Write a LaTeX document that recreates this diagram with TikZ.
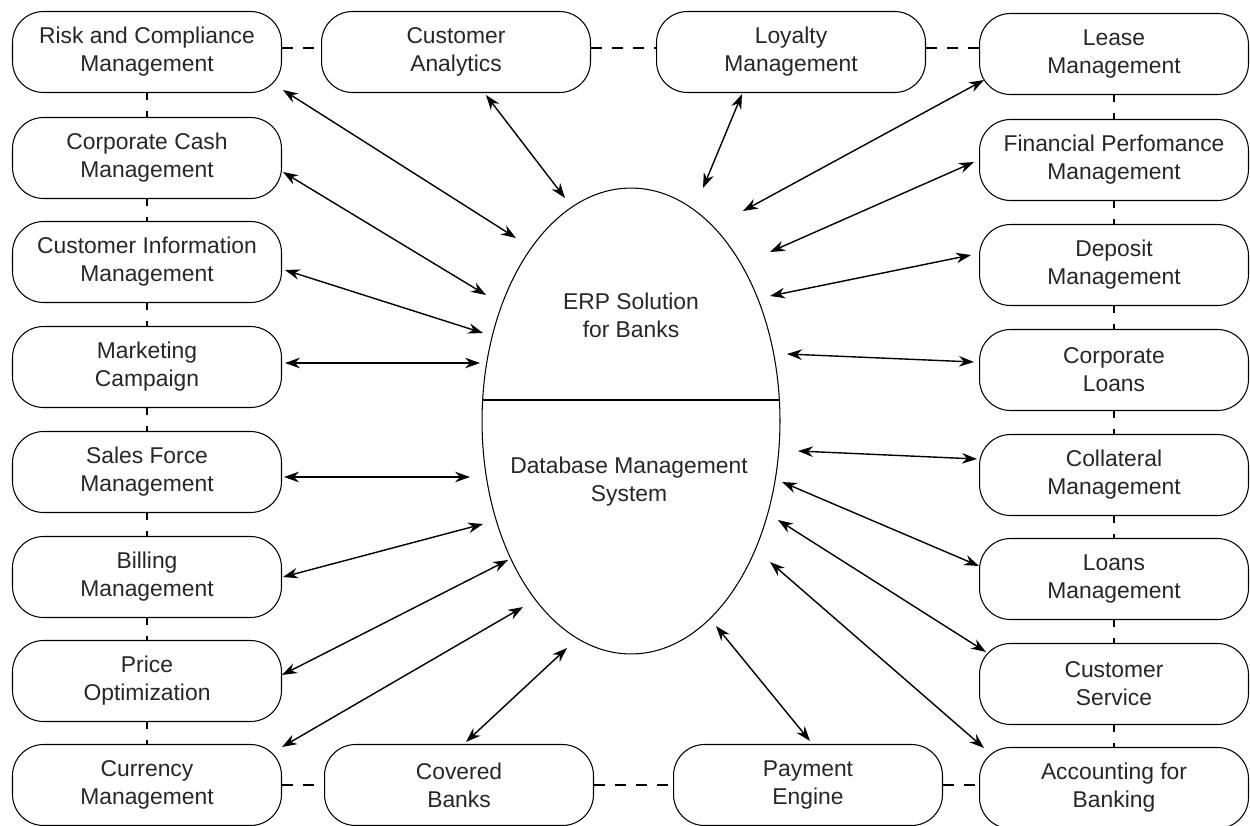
\documentclass[tikz,border=0pt]{standalone}
\usepackage{fontspec}
\setmainfont{Liberation Sans}
\usetikzlibrary{arrows.meta,calc,shapes.geometric}
\begin{document}
\begin{tikzpicture}[x=0.02cm,y=-0.02cm,
  box/.style={draw, line width=0.6pt, rounded corners=0.62cm,
    minimum width=5.38cm, minimum height=1.62cm, inner sep=0pt,
    align=center, font=\fontsize{13}{16}\selectfont, text=black!85},
  link/.style={line width=0.6pt, dash pattern=on 6pt off 6pt},
  flow/.style={line width=0.8pt,
    {Stealth[length=8.5pt,width=6pt]}-{Stealth[length=8.5pt,width=6pt]}},
  core/.style={draw, line width=0.6pt, ellipse, minimum width=5.96cm,
    minimum height=9.32cm, inner sep=0pt}]
\useasboundingbox (0,0) rectangle (1250,825);

% left column
\node[box] (risk) at (147,52)  {Risk and Compliance\\Management};
\node[box] (ccm)  at (147,158) {Corporate Cash\\Management};
\node[box] (cim)  at (147,262) {Customer Information\\Management};
\node[box] (mkt)  at (147,367) {Marketing\\Campaign};
\node[box] (sfm)  at (147,472) {Sales Force\\Management};
\node[box] (bil)  at (147,577) {Billing\\Management};
\node[box] (pri)  at (147,681) {Price\\Optimization};
\node[box] (cur)  at (147,785) {Currency\\Management};

% top and bottom rows
\node[box] (ca)   at (456,52)  {Customer\\Analytics};
\node[box] (loy)  at (791,52)  {Loyalty\\Management};
\node[box] (cov)  at (459,785) {Covered\\Banks};
\node[box] (pay)  at (808,785) {Payment\\Engine};

% right column
\node[box] (lease) at (1114,54)  {Lease\\Management};
\node[box] (fin)   at (1114,160) {Financial Perfomance\\Management};
\node[box] (dep)   at (1114,265) {Deposit\\Management};
\node[box] (cln)   at (1114,370) {Corporate\\Loans};
\node[box] (col)   at (1114,475) {Collateral\\Management};
\node[box] (loa)   at (1114,579) {Loans\\Management};
\node[box] (cs)    at (1114,684) {Customer\\Service};
\node[box] (acc)   at (1114,788) {Accounting for\\Banking};

% central ERP / DBMS ellipse
\node[core] (erp) at (631,421) {};
\coordinate (splitL) at ($(erp.center)+(-148.4,-21)$);
\coordinate (splitR) at ($(erp.center)+(148.4,-21)$);
\draw[line width=0.6pt] (splitL) -- (splitR);
\node[align=center, font=\fontsize{13}{16}\selectfont, text=black!85] (erptxt)
  at (631,315) {ERP Solution\\for Banks};
\node[align=center, font=\fontsize{13}{16}\selectfont, text=black!85] (dbtxt)
  at (629,482) {Database Management\\System};

% dashed links between neighbouring modules
\draw[link] ([yshift=0.08cm]risk.east) -- ([yshift=0.08cm]risk.east -| ca.west);
\draw[link] ([yshift=0.08cm]ca.east) -- ([yshift=0.08cm]ca.east -| loy.west);
\draw[link] ([yshift=0.08cm]loy.east) -- ([yshift=0.08cm]loy.east -| lease.west);
\draw[link] (cur.east) -- (cur.east -| cov.west);
\draw[link] (cov.east) -- (cov.east -| pay.west);
\draw[link] (pay.east) -- (pay.east -| acc.west);
\foreach \a/\b in {risk/ccm,ccm/cim,cim/mkt,mkt/sfm,sfm/bil,bil/pri,pri/cur,
                   lease/fin,fin/dep,dep/cln,cln/col,col/loa,loa/cs,cs/acc}
  \draw[link, dash phase=2pt] (\a.south) -- (\b.north);

% data flows to and from the ERP core
\draw[flow] ($(risk.east)+(1,38)$)  -- ($(erp.center)+(-115,-183)$);
\draw[flow] ($(ccm.east)+(1,14)$)   -- ($(erp.center)+(-145,-126)$);
\draw[flow] ($(cim.east)+(3,8)$)    -- ($(erp.center)+(-148,-88)$);
\draw[flow] ($(mkt.east)+(3,-4)$)   -- ($(erp.center)+(-151,-58)$);
\draw[flow] ($(sfm.east)+(2,5)$)    -- ($(erp.center)+(-161,56)$);
\draw[flow] ($(bil.east)+(1,0)$)    -- ($(erp.center)+(-148,103)$);
\draw[flow] ($(pri.east)+(0,-6)$)   -- ($(erp.center)+(-123,139)$);
\draw[flow] ($(cur.east)+(0,-38)$)  -- ($(erp.center)+(-108,186)$);
\draw[flow] ($(cov.north)+(7,-2)$)  -- ($(erp.center)+(-64,227)$);
\draw[flow] ($(ca.south)+(30,2)$)   -- ($(erp.center)+(-66,-223)$);
\draw[flow] ($(loy.south)+(-49,1)$) -- ($(erp.center)+(72,-233)$);
\draw[flow] ($(lease.west)+(5,26)$) -- ($(erp.center)+(112,-210)$);
\draw[flow] ($(fin.west)+(-5,2)$)   -- ($(erp.center)+(139,-169)$);
\draw[flow] ($(dep.west)+(-8,-10)$) -- ($(erp.center)+(139,-125)$);
\draw[flow] ($(cln.west)+(-5,-8)$)  -- ($(erp.center)+(156,-67)$);
\draw[flow] ($(col.west)+(-2,-16)$) -- ($(erp.center)+(167,30)$);
\draw[flow] ($(loa.west)+(0,-13)$)  -- ($(erp.center)+(151,61)$);
\draw[flow] ($(cs.west)+(7,-32)$)   -- ($(erp.center)+(147,99)$);
\draw[flow] ($(acc.west)+(5,-40)$)  -- ($(erp.center)+(139,141)$);
\draw[flow] ($(pay.north)+(2,-3)$)  -- ($(erp.center)+(85,205)$);
\end{tikzpicture}
\end{document}
